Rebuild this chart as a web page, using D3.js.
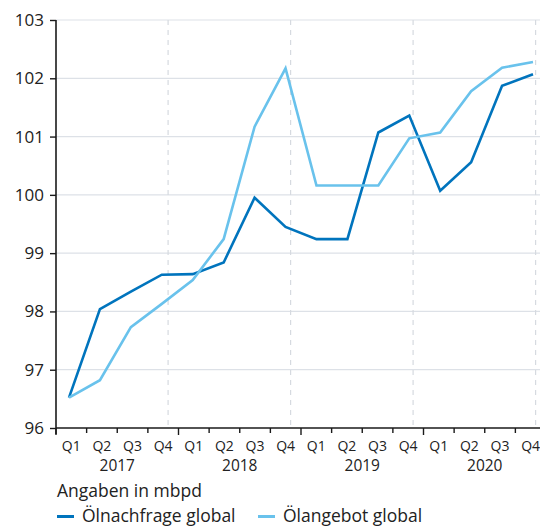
<!DOCTYPE html>
<html><head><meta charset="utf-8">
<script src="https://cdn.jsdelivr.net/npm/d3@7"></script>
<style>
html,body{margin:0;padding:0;background:#fff;}
svg{display:block;font-family:"Open Sans",sans-serif;}
</style></head>
<body>
<svg id="chart" width="540" height="527"></svg>
<script>
const years = ["2017","2018","2019","2020"];
const quarters = ["Q1","Q2","Q3","Q4"];
const demand = [96.52,98.04,98.34,98.63,98.64,98.84,99.95,99.45,99.24,99.24,101.07,101.36,100.07,100.56,101.87,102.07];
const supply = [96.52,96.82,97.73,98.13,98.54,99.24,101.17,102.17,100.16,100.16,100.16,100.97,101.07,101.78,102.18,102.28];
const yTicks = [96,97,98,99,100,101,102,103];
const seriesNames = ["Ölnachfrage global","Ölangebot global"];
const colors = ["#0074bd","#69c2ec"];
const unitNote = "Angaben in mbpd";

const keys = [];
years.forEach(yr => quarters.forEach(q => keys.push(yr + "-" + q)));

const svg = d3.select("#chart");
const mLeft = 56, mRight = 540, mTop = 20, mBottom = 428;

const y = d3.scaleLinear().domain([96,103]).range([mBottom, mTop]);
const xBand = d3.scaleBand().domain(keys).range([56, 546]).padding(0);
const xLine = d3.scalePoint().domain(keys).range([69, 533]);

// horizontal gridlines
svg.append("g").selectAll("line").data(yTicks.filter(t => t > 96)).join("line")
  .attr("x1", mLeft).attr("x2", mRight)
  .attr("y1", d => y(d)).attr("y2", d => y(d))
  .attr("stroke", "#dde1e7").attr("stroke-width", 1.2);

// year dividers (dashed)
svg.append("g").selectAll("line").data(years).join("line")
  .attr("x1", d => xBand(d + "-Q4") + xBand.bandwidth() * 0.66)
  .attr("x2", d => xBand(d + "-Q4") + xBand.bandwidth() * 0.66)
  .attr("y1", mTop).attr("y2", mBottom)
  .attr("stroke", "#d6dae0").attr("stroke-width", 1.2)
  .attr("stroke-dasharray", "5,5");

// y axis
const yAxis = d3.axisLeft(y).tickValues(yTicks).tickSize(6).tickPadding(6).tickFormat(d3.format("d"));
const gy = svg.append("g").attr("transform", `translate(${mLeft},0)`).call(yAxis);
gy.select(".domain").attr("stroke", "#1a1a1a").attr("stroke-width", 1.6).attr("d", `M0,${mTop}V${mBottom + 6}`);
gy.selectAll(".tick line").attr("stroke", "#1a1a1a").attr("stroke-width", 1.4);
gy.selectAll(".tick text").attr("font-size", 17).attr("fill", "#222").attr("font-family", "Open Sans");

// x axis
const gx = svg.append("g").attr("transform", `translate(0,${mBottom})`);
gx.append("line").attr("x1", mLeft).attr("x2", mRight).attr("y1", 0).attr("y2", 0)
  .attr("stroke", "#1a1a1a").attr("stroke-width", 1.6);
gx.selectAll("line.tk").data(keys).join("line").attr("class", "tk")
  .attr("x1", d => xBand(d)).attr("x2", d => xBand(d))
  .attr("y1", 0).attr("y2", d => d.endsWith("Q1") ? 7 : 5)
  .attr("stroke", "#1a1a1a").attr("stroke-width", 1.4);
gx.selectAll("text.q").data(keys).join("text").attr("class", "q")
  .attr("x", d => xBand(d) + xBand.bandwidth() / 2)
  .attr("y", 23)
  .attr("text-anchor", "middle").attr("font-size", 14).attr("fill", "#222")
  .text(d => d.split("-")[1]);
gx.selectAll("text.yr").data(years).join("text").attr("class", "yr")
  .attr("x", d => (xBand(d + "-Q2") + xBand(d + "-Q3") + xBand.bandwidth()) / 2)
  .attr("y", 43)
  .attr("text-anchor", "middle").attr("font-size", 15.5).attr("fill", "#222")
  .text(d => d);

// lines
const line = d3.line().x((d, i) => xLine(keys[i])).y(d => y(d));
[demand, supply].forEach((s, i) => {
  svg.append("path").datum(s).attr("d", line)
    .attr("fill", "none").attr("stroke", colors[i]).attr("stroke-width", 2.6)
    .attr("stroke-linejoin", "miter");
});

// unit note
svg.append("text").attr("x", 57).attr("y", 497).attr("font-size", 17.5).attr("fill", "#222").text(unitNote);

// legend
const legX = [57, 258];
seriesNames.forEach((n, i) => {
  const g = svg.append("g").attr("transform", `translate(${legX[i]},516.5)`);
  g.append("line").attr("x1", 0).attr("x2", 17).attr("y1", 0).attr("y2", 0)
    .attr("stroke", colors[i]).attr("stroke-width", 3);
  g.append("text").attr("x", 25).attr("y", 5.5).attr("font-size", 17.5).attr("fill", "#222").text(n);
});
</script>
</body></html>
